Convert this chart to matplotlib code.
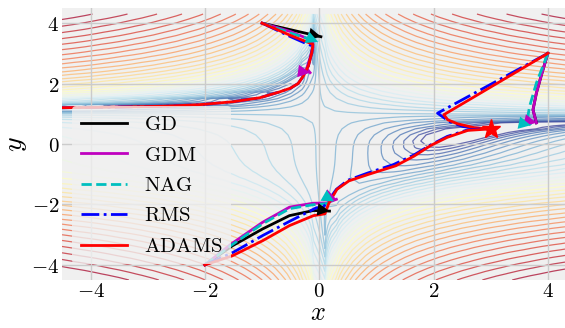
import numpy as np
import matplotlib.pyplot as plt
from matplotlib.colors import LogNorm

plt.rcParams['mathtext.fontset'] = 'cm'

# Beale function surface for the contour background
grid_step = 0.2
grid_x = np.arange(-4.5, 4.5, grid_step)
grid_y = np.arange(-4.5, 4.5, grid_step)
X, Y = np.meshgrid(grid_x, grid_y)
Z = (1.5 - X + X * Y) ** 2 + (2.25 - X + X * Y ** 2) ** 2 + (2.625 - X + X * Y ** 3) ** 2
contour_levels = np.logspace(0, 5, 35)

minimum = (3.0, 0.5)

# trajectories, three starting points
gd_a_x = [-1.0, -0.5, 0.03]
gd_a_y = [4.0, 3.78, 3.55]
gdm_a_x = [-1.0, -0.5, -0.12, -0.11, -0.16, -0.22, -0.16]
gdm_a_y = [4.0, 3.72, 3.42, 3.2, 2.85, 2.5, 2.36]
nag_a_x = [-1.0, -0.5, -0.02]
nag_a_y = [4.0, 3.67, 3.38]
rms_a_x = [-1.0, -0.5, -0.2, -0.12, -0.13, -0.19, -0.28, -0.37, -0.5, -0.7, -1.04, -1.5, -2.1, -2.7, -3.28, -3.9, -4.6]
rms_a_y = [4.0, 3.55, 3.3, 3.25, 3.02, 2.58, 2.24, 2.0, 1.85, 1.72, 1.53, 1.4, 1.3, 1.25, 1.23, 1.21, 1.2]
adam_a_x = [-1.0, -0.5, -0.11, -0.13, -0.19, -0.28, -0.37, -0.5, -0.7, -1.04, -1.5, -2.1, -2.7, -3.28, -3.9, -4.6]
adam_a_y = [4.0, 3.59, 3.3, 3.02, 2.58, 2.24, 2.0, 1.85, 1.72, 1.53, 1.4, 1.3, 1.25, 1.23, 1.21, 1.2]

gd_b_x = [4.0, 3.89, 3.8, 3.74, 3.8]
gd_b_y = [3.0, 2.3, 1.69, 1.13, 0.7]
gdm_b_x = [4.0, 3.89, 3.8, 3.74, 3.8]
gdm_b_y = [3.0, 2.3, 1.69, 1.13, 0.7]
nag_b_x = [4.0, 3.8, 3.68, 3.64, 3.7]
nag_b_y = [3.0, 2.02, 1.24, 0.8, 0.62]
rms_b_x = [4.0, 2.07, 2.28, 2.51, 2.75, 3.0]
rms_b_y = [3.0, 1.02, 0.74, 0.58, 0.52, 0.5]
adam_b_x = [4.0, 2.28, 2.18, 2.25, 2.42, 2.71, 3.0]
adam_b_y = [3.0, 1.08, 0.97, 0.8, 0.67, 0.54, 0.5]

gd_c_x = [-2.0, -1.52, -0.99, -0.52, -0.1, 0.18]
gd_c_y = [-4.0, -3.37, -2.81, -2.37, -2.2, -2.22]
gdm_c_x = [-2.0, -1.54, -0.99, -0.52, -0.11, 0.13, 0.3]
gdm_c_y = [-4.0, -3.31, -2.59, -2.09, -1.96, -1.95, -1.83]
nag_c_x = [-2.0, -1.53, -0.99, -0.52, -0.11, 0.1, 0.26]
nag_c_y = [-4.0, -3.34, -2.64, -2.14, -2.01, -1.98, -1.9]
rms_c_x = [-2.0, -1.51, -0.99, -0.52, -0.05, 0.07, 0.15, 0.3, 0.5, 0.85, 1.3, 1.66, 1.95, 2.24, 2.6, 3.0]
rms_c_y = [-4.0, -3.59, -3.03, -2.56, -2.11, -2.09, -1.9, -1.5, -1.2, -0.96, -0.68, -0.36, -0.03, 0.25, 0.47, 0.52]
adam_c_x = [-2.0, -1.52, -0.99, -0.52, -0.1, 0.1, 0.17, 0.31, 0.52, 0.87, 1.34, 1.66, 1.95, 2.24, 2.6, 3.0]
adam_c_y = [-4.0, -3.7, -3.2, -2.7, -2.37, -2.31, -1.95, -1.5, -1.22, -1.0, -0.72, -0.4, -0.05, 0.22, 0.45, 0.5]

# heading of the arrow head at the end of each path (screen degrees), None = no head
heading_a = [-13, -8, -22, None, None]
heading_b = [None, -12, -12, None, None]
heading_c = [-8, -20, -30, None, None]

labels = ['GD', 'GDM', 'NAG', 'RMS', 'ADAMS']
colors = ['k', 'm', 'c', 'b', 'r']
styles = ['-', '-', '--', '-.', '-']

paths_a = [(gd_a_x, gd_a_y), (gdm_a_x, gdm_a_y), (nag_a_x, nag_a_y), (rms_a_x, rms_a_y), (adam_a_x, adam_a_y)]
paths_b = [(gd_b_x, gd_b_y), (gdm_b_x, gdm_b_y), (nag_b_x, nag_b_y), (rms_b_x, rms_b_y), (adam_b_x, adam_b_y)]
paths_c = [(gd_c_x, gd_c_y), (gdm_c_x, gdm_c_y), (nag_c_x, nag_c_y), (rms_c_x, rms_c_y), (adam_c_x, adam_c_y)]

fig = plt.figure(figsize=(5.65, 3.28), dpi=100)
ax = fig.add_axes([62 / 565, 48 / 328, 503 / 565, 272 / 328])
ax.set_facecolor('#f0f0f0')
for s in ax.spines.values():
    s.set_visible(False)

ax.contour(X, Y, Z, levels=contour_levels, norm=LogNorm(), cmap='RdYlBu_r',
           linewidths=0.9, alpha=0.72, zorder=1)
ax.grid(True, color='#cbcbcb', lw=1, zorder=1.5)
ax.set_axisbelow(False)

for paths, headings in [(paths_a, heading_a), (paths_b, heading_b), (paths_c, heading_c)]:
    for i, (px, py) in enumerate(paths):
        lab = labels[i] if paths is paths_a else None
        ax.plot(px, py, color=colors[i], ls=styles[i], lw=2, zorder=3,
                label=None if lab is None else r'$\mathrm{%s}$' % lab)
        if headings[i] is not None:
            ang = np.deg2rad(headings[i])
            ax.annotate('', xy=(px[-1], py[-1]),
                        xytext=(-20 * np.cos(ang), -20 * np.sin(ang)), textcoords='offset points',
                        arrowprops=dict(arrowstyle='-|>,head_length=0.58,head_width=0.3',
                                        mutation_scale=15, color=colors[i], lw=0,
                                        shrinkA=0, shrinkB=0),
                        zorder=4)

ax.plot(*minimum, 'r*', markersize=14, zorder=4)

ax.set_xlim(-4.5, 4.3)
ax.set_ylim(-4.5, 4.5)
ticks = [-4, -2, 0, 2, 4]
tick_labels = [r'$-4$', r'$-2$', r'$0$', r'$2$', r'$4$']
ax.set_xticks(ticks)
ax.set_xticklabels(tick_labels, fontsize=15)
ax.set_yticks(ticks)
ax.set_yticklabels(tick_labels, fontsize=15)
ax.tick_params(axis='x', length=0, pad=1)
ax.tick_params(axis='y', length=0, pad=2)
ax.set_xlabel(r'$x$', fontsize=19)
ax.set_ylabel(r'$y$', fontsize=20)
ax.xaxis.set_label_coords(0.509, -0.074)
ax.yaxis.set_label_coords(-0.065, 0.5)

leg = ax.legend(loc='lower left', bbox_to_anchor=(0.0, 0.02), fontsize=15,
                handlelength=2.2, handletextpad=0.85, labelspacing=0.5,
                facecolor='#f0f0f0', edgecolor='none', framealpha=0.8)

fig.savefig('out.png', dpi=100)
